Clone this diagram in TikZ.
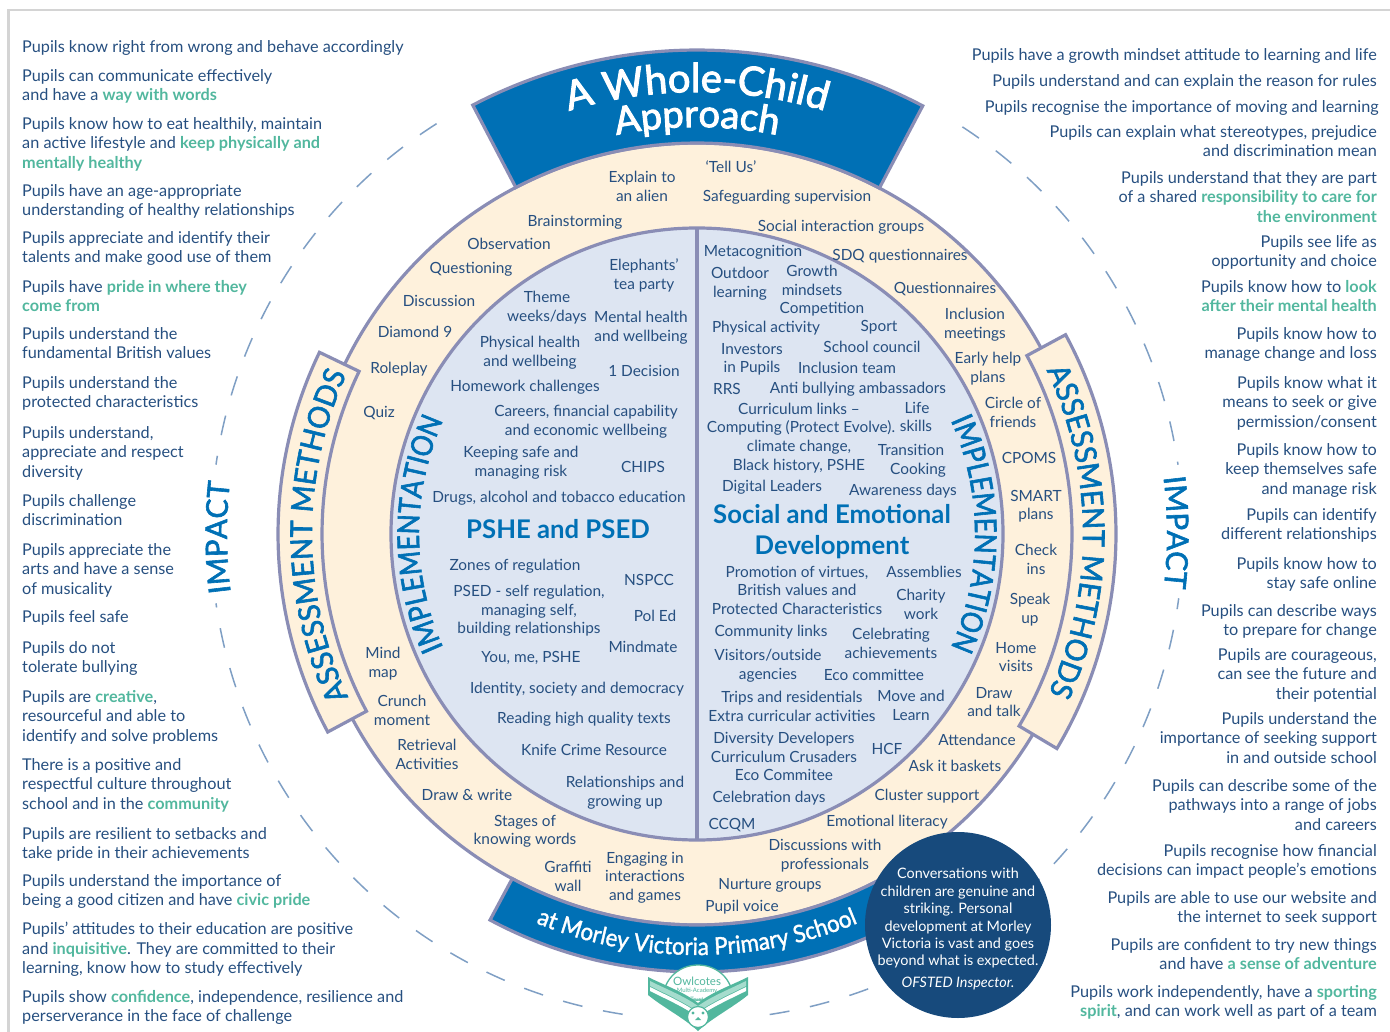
\documentclass[tikz,border=0pt]{standalone}
\usepackage{fontspec}
\setmainfont{Lato}
\newfontfamily\bandfam[FakeStretch=0.965,FakeBold=2]{Lato}
\newfontfamily\implfam[FakeStretch=0.88,FakeBold=2]{Lato}
\newfontfamily\impactfam[FakeStretch=0.985,FakeBold=2]{Lato}
\newfontfamily\titlefam[FakeBold=2.5]{Lato}
\newfontfamily\schoolfam[FakeStretch=0.93,FakeBold=1.5]{Lato}
\usepackage{tikz}
\usetikzlibrary{decorations.text}
\definecolor{cnavy}{HTML}{264F80}
\definecolor{cband}{HTML}{0070B5}
\definecolor{cline}{HTML}{8A8DB5}
\definecolor{ccream}{HTML}{FEF1DC}
\definecolor{cpale}{HTML}{DDE5F2}
\definecolor{cdeep}{HTML}{174A7C}
\definecolor{cgreen}{HTML}{52B79E}
\definecolor{cmint}{HTML}{A5DCCD}
\definecolor{cdash}{HTML}{7F9FC4}
\definecolor{cframe}{HTML}{D4D4D4}
\newcommand{\hl}[1]{\textcolor{cgreen}{\textbf{#1}}}
\newcommand{\titlefont}{\titlefam\fontsize{40}{40}\selectfont\color{white}}
\newcommand{\approachfont}{\titlefam\fontsize{38}{38}\selectfont\color{white}}
\newcommand{\schoolfont}{\schoolfam\fontsize{24}{24}\selectfont\color{white}}
\newcommand{\bandfont}{\bandfam\fontsize{30}{30}\selectfont\color{cband}}
\newcommand{\implfont}{\implfam\fontsize{30}{30}\selectfont\color{cband}}
\newcommand{\impactfont}{\impactfam\fontsize{30}{30}\selectfont\color{cband}}

\begin{document}
\begin{tikzpicture}[x=1pt,y=-1pt,
  ring/.style={draw=cline,line width=3.2pt,line join=miter},
  dashring/.style={cdash,line width=1.5pt,dash pattern=on 20pt off 21pt},
  along/.style={decorate,decoration={text along path,text align=center,text={#1}}},
  pupil left/.style={anchor=north west,inner sep=0pt,yshift=13pt,align=left,text=cnavy,
    font=\fontsize{16.25}{19.5}\selectfont,execute at begin node=\rule{0pt}{13pt}},
  pupil right/.style={pupil left,anchor=north east,align=right},
  tag node/.style={anchor=north,inner sep=0pt,yshift=13pt,align=center,text=cnavy,
    font=\fontsize{15.4}{18.5}\selectfont,execute at begin node=\rule{0pt}{13pt}},
  head node/.style={tag node,text=cband,font=\fontsize{25.7}{31}\selectfont\bfseries},
  quote node/.style={tag node,text=white,font=\fontsize{14.4}{17.4}\selectfont}]
  \useasboundingbox (0,0) rectangle (1390,1032);
  \draw[cframe,line width=2.8pt] (8.5,1032) -- (8.5,10) -- (1390,10);

  \begin{scope}[shift={(697,534)}]
    % dashed ring
    \draw[dashring] (237.6:486) arc (237.6:188.2:486);
    \draw[dashring] (98.8:486) arc (98.8:171.8:486);
    \draw[dashring] (81.4:486) arc (81.4:7.6:486);
    \draw[dashring] (-56.9:486) arc (-56.9:-8.2:486);
    % discs
    \draw[ring,fill=ccream] (0,0) circle (391);
    \draw[ring,fill=cpale] (0,0) circle (306);
    % banners
    \draw[ring,fill=cband] (242.4:484) arc (242.4:297.8:484) -- (297.8:391) arc (297.8:242.4:391) -- cycle;
    \draw[ring,fill=cband] (118.2:438) arc (118.2:60:438) -- (60:391) arc (60:118.2:391) -- cycle;
    \draw[ring,fill=ccream] (205.7:419) arc (205.7:151.8:419) -- (151.8:375) arc (151.8:205.7:375) -- cycle;
    \draw[ring,fill=ccream] (-28.4:419) arc (-28.4:30.8:419) -- (30.8:375) arc (30.8:-28.4:375) -- cycle;
    % curved titles
    \path[along={|\titlefont|A Whole-Child}] (235:442) arc (235:305:442);
    \path[along={|\approachfont|Approach}] (235:407) arc (235:305:407);
    \path[along={|\schoolfont|at Morley Victoria Primary School}] (125:421) arc (125:55:421);
    \path[along={|\bandfont|ASSESSMENT METHODS}] (149.7:385) arc (149.7:209.7:385);
    \path[along={|\bandfont|ASSESSMENT METHODS}] (-30.4:386) arc (-30.4:29.6:386);
    \path[along={|\implfont|IMPLEMENTATION}] (150:278) arc (150:210:278);
    \path[along={|\implfont|IMPLEMENTATION}] (-30:278) arc (-30:30:278);
    \path[along={|\impactfont|IMPACT}] (164.6:470) arc (164.6:194.6:470);
    \path[along={|\impactfont|IMPACT}] (-15.2:470) arc (-15.2:14.8:470);
  \end{scope}
  \draw[cline,line width=3.2pt] (697,228) -- (697,840);
  \fill[cdeep] (958,925) circle (93);

  % logo
  \draw[cgreen,line width=1.3pt,fill=white] (663,1000) .. controls (663,978) and (680,965) .. (698,965)
    .. controls (716,965) and (733,978) .. (733,1000) -- cycle;
  \fill[cgreen] (648,977) .. controls (664,985) and (684,992) .. (698,1003) .. controls (712,992) and (732,985) .. (748,977)
    -- (748,995) .. controls (732,1008) and (712,1018) .. (698,1031) .. controls (684,1018) and (664,1008) .. (648,995) -- cycle;
  \fill[cmint] (650,981) .. controls (666,989) and (684,996) .. (698,1006) .. controls (712,996) and (730,989) .. (746,981)
    -- (746,986) .. controls (730,994) and (712,1002) .. (698,1012) .. controls (684,1002) and (666,994) .. (650,986) -- cycle;
  \fill[white] (650,987) .. controls (666,995) and (684,1003) .. (698,1013) .. controls (712,1003) and (730,995) .. (746,987)
    -- (746,991) .. controls (730,999) and (712,1007) .. (698,1017) .. controls (684,1007) and (666,999) .. (650,991) -- cycle;
  \draw[cgreen,line width=1.2pt,fill=white] (698,1017) circle (10.5);
  \fill[cgreen] (693,1013) circle (1.7) (703,1013) circle (1.7) (698,1017) -- (695,1020) -- (701,1020) -- cycle;
  \node[inner sep=0pt,text=cgreen,font=\fontsize{11.5}{12}\selectfont] (logo1) at (697,981) {Owlcotes};
  \node[inner sep=0pt,text=cgreen,font=\fontsize{6}{7}\selectfont] (logo2) at (697,991) {Multi-Academy};
  \node[inner sep=0pt,text=cgreen,font=\fontsize{6}{7}\selectfont] (logo3) at (697,999) {Trust};

  % left column
  \node[pupil left] (l1) at (22,52) {Pupils know right from wrong and behave accordingly};
  \node[pupil left] (l2) at (22,82) {Pupils can communicate effectively\\and have a \hl{way with words}};
  \node[pupil left] (l3) at (22,130) {Pupils know how to eat healthily, maintain\\an active lifestyle and \hl{keep physically and}\\\hl{mentally healthy}};
  \node[pupil left] (l4) at (22,197) {Pupils have an age-appropriate\\understanding of healthy relationships};
  \node[pupil left] (l5) at (22,244) {Pupils appreciate and identify their\\talents and make good use of them};
  \node[pupil left] (l6) at (22,293) {Pupils have \hl{pride in where they}\\\hl{come from}};
  \node[pupil left] (l7) at (22,340) {Pupils understand the\\fundamental British values};
  \node[pupil left] (l8) at (22,389) {Pupils understand the\\protected characteristics};
  \node[pupil left] (l9) at (22,439) {Pupils understand,\\appreciate and respect\\diversity};
  \node[pupil left] (l10) at (22,507) {Pupils challenge\\discrimination};
  \node[pupil left] (l11) at (22,556) {Pupils appreciate the\\arts and have a sense\\of musicality};
  \node[pupil left] (l12) at (22,622) {Pupils feel safe};
  \node[pupil left] (l13) at (22,654) {Pupils do not\\tolerate bullying};
  \node[pupil left] (l14) at (22,703) {Pupils are \hl{creative},\\resourceful and able to\\identify and solve problems};
  \node[pupil left] (l15) at (22,771) {There is a positive and\\respectful culture throughout\\school and in the \hl{community}};
  \node[pupil left] (l16) at (22,840) {Pupils are resilient to setbacks and\\take pride in their achievements};
  \node[pupil left] (l17) at (22,887) {Pupils understand the importance of\\being a good citizen and have \hl{civic pride}};
  \node[pupil left] (l18) at (22,935) {Pupils’ attitudes to their education are positive\\and \hl{inquisitive}. They are committed to their\\learning, know how to study effectively};
  \node[pupil left] (l19) at (22,1003) {Pupils show \hl{confidence}, independence, resilience and\\perserverance in the face of challenge};

  % right column
  \node[pupil right] (r1) at (1377,60) {Pupils have a growth mindset attitude to learning and life};
  \node[pupil right] (r2) at (1377,86) {Pupils understand and can explain the reason for rules};
  \node[pupil right] (r3) at (1379,112) {Pupils recognise the importance of moving and learning};
  \node[pupil right] (r4) at (1377,138) {Pupils can explain what stereotypes, prejudice\\and discrimination mean};
  \node[pupil right] (r5) at (1377,184) {Pupils understand that they are part\\of a shared \hl{responsibility to care for}\\\hl{the environment}};
  \node[pupil right] (r6) at (1377,248) {Pupils see life as\\opportunity and choice};
  \node[pupil right] (r7) at (1377,293) {Pupils know how to \hl{look}\\\hl{after their mental health}};
  \node[pupil right] (r8) at (1377,340) {Pupils know how to\\manage change and loss};
  \node[pupil right] (r9) at (1377,389) {Pupils know what it\\means to seek or give\\permission/consent};
  \node[pupil right] (r10) at (1377,456) {Pupils know how to\\keep themselves safe\\and manage risk};
  \node[pupil right] (r11) at (1377,521) {Pupils can identify\\different relationships};
  \node[pupil right] (r12) at (1377,570) {Pupils know how to\\stay safe online};
  \node[pupil right] (r13) at (1377,617) {Pupils can describe ways\\to prepare for change};
  \node[pupil right] (r14) at (1377,661) {Pupils are courageous,\\can see the future and\\their potential};
  \node[pupil right] (r15) at (1377,725) {Pupils understand the\\importance of seeking support\\in and outside school};
  \node[pupil right] (r16) at (1377,792) {Pupils can describe some of the\\pathways into a range of jobs\\and careers};
  \node[pupil right] (r17) at (1377,857) {Pupils recognise how financial\\decisions can impact people’s emotions};
  \node[pupil right] (r18) at (1377,904) {Pupils are able to use our website and\\the internet to seek support};
  \node[pupil right] (r19) at (1377,951) {Pupils are confident to try new things\\and have \hl{a sense of adventure}};
  \node[pupil right] (r20) at (1377,998) {Pupils work independently, have a \hl{sporting}\\\hl{spirit}, and can work well as part of a team};

  % cream ring
  \node[tag node] (c1) at (642,184) {Explain to\\an alien};
  \node[tag node] (c2) at (731,172) {‘Tell Us’};
  \node[tag node] (c3) at (787,201) {Safeguarding supervision};
  \node[tag node] (c4) at (575,226) {Brainstorming};
  \node[tag node] (c5) at (841,231) {Social interaction groups};
  \node[tag node] (c6) at (509,249) {Observation};
  \node[tag node] (c7) at (900,260) {SDQ questionnaires};
  \node[tag node] (c8) at (471,273) {Questioning};
  \node[tag node] (c9) at (945,293) {Questionnaires};
  \node[tag node] (c10) at (439,306) {Discussion};
  \node[tag node] (c11) at (975,321) {Inclusion\\meetings};
  \node[tag node] (c12) at (415,337) {Diamond 9};
  \node[tag node] (c13) at (399,373) {Roleplay};
  \node[tag node] (c14) at (988,365) {Early help\\plans};
  \node[tag node] (c15) at (379,417) {Quiz};
  \node[tag node] (c16) at (1013,410) {Circle of\\friends};
  \node[tag node] (c17) at (1029,463) {CPOMS};
  \node[tag node] (c18) at (1036,503) {SMART\\plans};
  \node[tag node] (c19) at (1036,557) {Check\\ins};
  \node[tag node] (c20) at (1030,606) {Speak\\up};
  \node[tag node] (c21) at (1016,655) {Home\\visits};
  \node[tag node] (c22) at (994,700) {Draw\\and talk};
  \node[tag node] (c23) at (383,660) {Mind\\map};
  \node[tag node] (c24) at (402,708) {Crunch\\moment};
  \node[tag node] (c25) at (427,752) {Retrieval\\Activities};
  \node[tag node] (c26) at (467,800) {Draw \& write};
  \node[tag node] (c27) at (977,745) {Attendance};
  \node[tag node] (c28) at (955,771) {Ask it baskets};
  \node[tag node] (c29) at (927,800) {Cluster support};
  \node[tag node] (c30) at (887,826) {Emotional literacy};
  \node[tag node] (c31) at (525,828) {Stages of\\knowing words};
  \node[tag node] (c32) at (825,852) {Discussions with\\professionals};
  \node[tag node] (c33) at (568,874) {Graffiti\\wall};
  \node[tag node] (c34) at (645,865) {Engaging in\\interactions\\and games};
  \node[tag node] (c35) at (770,889) {Nurture groups};
  \node[tag node] (c36) at (742,911) {Pupil voice};

  % PSHE half
  \node[tag node] (p1) at (644,272) {Elephants’\\tea party};
  \node[tag node] (p2) at (547,304) {Theme\\weeks/days};
  \node[tag node] (p3) at (641,324) {Mental health\\and wellbeing};
  \node[tag node] (p4) at (530,349) {Physical health\\and wellbeing};
  \node[tag node] (p5) at (644,376) {1 Decision};
  \node[tag node] (p6) at (525,391) {Homework challenges};
  \node[tag node] (p7) at (586,418) {Careers, financial capability\\and economic wellbeing};
  \node[tag node] (p8) at (521,459) {Keeping safe and\\managing risk};
  \node[tag node] (p9) at (643,472) {CHIPS};
  \node[tag node] (p10) at (559,502) {Drugs, alcohol and tobacco education};
  \node[head node] (p11) at (558,532) {PSHE and PSED};
  \node[tag node] (p12) at (515,570) {Zones of regulation};
  \node[tag node] (p13) at (529,598) {PSED - self regulation,\\managing self,\\building relationships};
  \node[tag node] (p14) at (649,585) {NSPCC};
  \node[tag node] (p15) at (655,621) {Pol Ed};
  \node[tag node] (p16) at (643,652) {Mindmate};
  \node[tag node] (p17) at (531,662) {You, me, PSHE};
  \node[tag node] (p18) at (577,693) {Identity, society and democracy};
  \node[tag node] (p19) at (584,723) {Reading high quality texts};
  \node[tag node] (p20) at (594,755) {Knife Crime Resource};
  \node[tag node] (p21) at (625,789) {Relationships and\\growing up};

  % social and emotional half
  \node[tag node] (s1) at (753,256) {Metacognition};
  \node[tag node] (s2) at (740,280) {Outdoor\\learning};
  \node[tag node] (s3) at (812,278) {Growth\\mindsets};
  \node[tag node] (s4) at (822,313) {Competition};
  \node[tag node] (s5) at (766,332) {Physical activity};
  \node[tag node] (s6) at (879,331) {Sport};
  \node[tag node] (s7) at (752,356) {Investors\\in Pupils};
  \node[tag node] (s8) at (872,352) {School council};
  \node[tag node] (s9) at (847,373) {Inclusion team};
  \node[tag node] (s10) at (727,394) {RRS};
  \node[tag node] (s11) at (858,393) {Anti bullying ambassadors};
  \node[tag node] (s12) at (799,414) {Curriculum links –};
  \node[tag node] (s13) at (917,413) {Life};
  \node[tag node] (s14) at (801,432) {Computing (Protect Evolve).};
  \node[tag node] (s15) at (916,431) {skills};
  \node[tag node] (s16) at (799,453) {climate change,\\Black history, PSHE};
  \node[tag node] (s17) at (911,455) {Transition};
  \node[tag node] (s18) at (918,474) {Cooking};
  \node[tag node] (s19) at (772,491) {Digital Leaders};
  \node[tag node] (s20) at (903,495) {Awareness days};
  \node[head node] (s21) at (832,517) {Social and Emotional\\Development};
  \node[tag node] (s22) at (797,579) {Promotion of virtues,\\British values and\\Protected Characteristics};
  \node[tag node] (s23) at (924,577) {Assemblies};
  \node[tag node] (s24) at (921,602) {Charity\\work};
  \node[tag node] (s25) at (771,636) {Community links};
  \node[tag node] (s26) at (891,641) {Celebrating\\achievements};
  \node[tag node] (s27) at (768,662) {Visitors/outside\\agencies};
  \node[tag node] (s28) at (874,680) {Eco committee};
  \node[tag node] (s29) at (792,704) {Trips and residentials\\Extra curricular activities};
  \node[tag node] (s30) at (911,703) {Move and\\Learn};
  \node[tag node] (s31) at (784,745) {Diversity Developers\\Curriculum Crusaders\\Eco Commitee};
  \node[tag node] (s32) at (887,754) {HCF};
  \node[tag node] (s33) at (769,802) {Celebration days};
  \node[tag node] (s34) at (732,829) {CCQM};

  % quote
  \node[quote node] (q1) at (958,881) {Conversations with\\children are genuine and\\striking. Personal\\development at Morley\\Victoria is vast and goes\\beyond what is expected.};
  \node[quote node] (q2) at (958,987) {\itshape OFSTED Inspector.};
\end{tikzpicture}
\end{document}
